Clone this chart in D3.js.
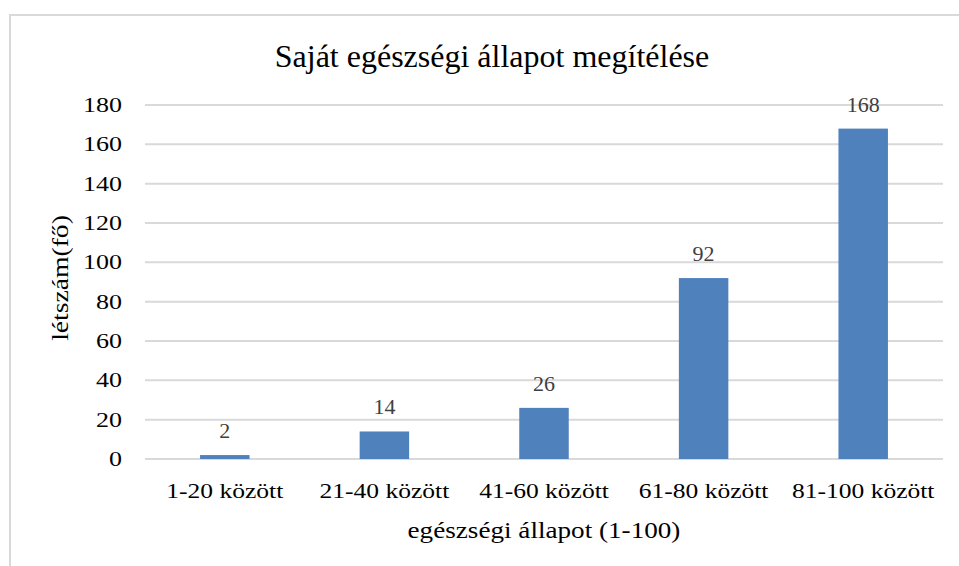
<!DOCTYPE html>
<html>
<head>
<meta charset="utf-8">
<script src="https://cdn.jsdelivr.net/npm/d3@7"></script>
<style>
  body { margin: 0; background: #fff; }
</style>
</head>
<body>
<svg id="chart" width="959" height="566"></svg>
<script>
const categories = ["1-20 között", "21-40 között", "41-60 között", "61-80 között", "81-100 között"];
const values = [2, 14, 26, 92, 168];
const yTicks = [0, 20, 40, 60, 80, 100, 120, 140, 160, 180];

const FONT = "'Liberation Serif', 'Times New Roman', serif";
const margin = { left: 145, right: 16, top: 105, bottom: 107 };
const width = 959, height = 566;

const svg = d3.select("#chart");

// the picture is a bit wider than normal Times, so stretch text horizontally
function stretch(sel, k) {
  sel.each(function () {
    const w = this.getComputedTextLength();
    d3.select(this)
      .attr("textLength", w * k)
      .attr("lengthAdjust", "spacingAndGlyphs");
  });
}

// chart frame (runs past the picture on the right and bottom)
svg.append("rect")
  .attr("x", 10).attr("y", 15)
  .attr("width", 980).attr("height", 600)
  .attr("fill", "none")
  .attr("stroke", "#d9d9d9")
  .attr("stroke-width", 2);

const x = d3.scaleBand()
  .domain(categories)
  .range([margin.left, width - margin.right])
  .paddingInner(0.69)
  .paddingOuter(0.345);

const y = d3.scaleLinear()
  .domain([0, 180])
  .range([height - margin.bottom, margin.top]);

// gridlines
svg.append("g")
  .selectAll("line")
  .data(yTicks)
  .join("line")
  .attr("x1", margin.left)
  .attr("x2", width - margin.right)
  .attr("y1", d => y(d))
  .attr("y2", d => y(d))
  .attr("stroke", "#d9d9d9")
  .attr("stroke-width", 2);

// y axis labels
const yAxis = svg.append("g")
  .attr("transform", `translate(${margin.left - 23},0)`)
  .call(d3.axisLeft(y).tickValues(yTicks).tickSize(0).tickPadding(0));
yAxis.select(".domain").remove();
yAxis.selectAll("text")
  .style("font-family", FONT)
  .style("font-size", "20px")
  .attr("fill", "#000")
  .call(stretch, 1.3);

// bars
svg.append("g")
  .selectAll("rect")
  .data(values)
  .join("rect")
  .attr("x", (d, i) => x(categories[i]))
  .attr("width", x.bandwidth())
  .attr("y", d => y(d))
  .attr("height", d => y(0) - y(d))
  .attr("fill", "#4f81bd");

// data labels
svg.append("g")
  .selectAll("text")
  .data(values)
  .join("text")
  .attr("x", (d, i) => x(categories[i]) + x.bandwidth() / 2)
  .attr("y", d => y(d) - 17)
  .attr("text-anchor", "middle")
  .style("font-family", FONT)
  .style("font-size", "20px")
  .attr("fill", "#404040")
  .text(d => d)
  .call(stretch, 1.1);

// x axis labels
const xAxis = svg.append("g")
  .attr("transform", `translate(0,${y(0) + 39})`)
  .call(d3.axisBottom(x).tickSize(0).tickPadding(0));
xAxis.select(".domain").remove();
xAxis.selectAll("text")
  .attr("dy", 0)
  .style("font-family", FONT)
  .style("font-size", "22px")
  .attr("fill", "#000")
  .call(stretch, 1.16);

// titles
svg.append("text")
  .attr("x", 492).attr("y", 67)
  .attr("text-anchor", "middle")
  .style("font-family", FONT)
  .style("font-size", "32px")
  .attr("fill", "#000")
  .text("Saját egészségi állapot megítélése");

svg.append("text")
  .attr("x", (margin.left + width - margin.right) / 2)
  .attr("y", 538)
  .attr("text-anchor", "middle")
  .style("font-family", FONT)
  .style("font-size", "23px")
  .attr("fill", "#000")
  .text("egészségi állapot (1-100)")
  .call(stretch, 1.18);

svg.append("text")
  .attr("transform", "translate(68,278) rotate(-90)")
  .attr("text-anchor", "middle")
  .style("font-family", FONT)
  .style("font-size", "23px")
  .attr("fill", "#000")
  .text("létszám(fő)")
  .call(stretch, 1.2);
</script>
</body>
</html>
